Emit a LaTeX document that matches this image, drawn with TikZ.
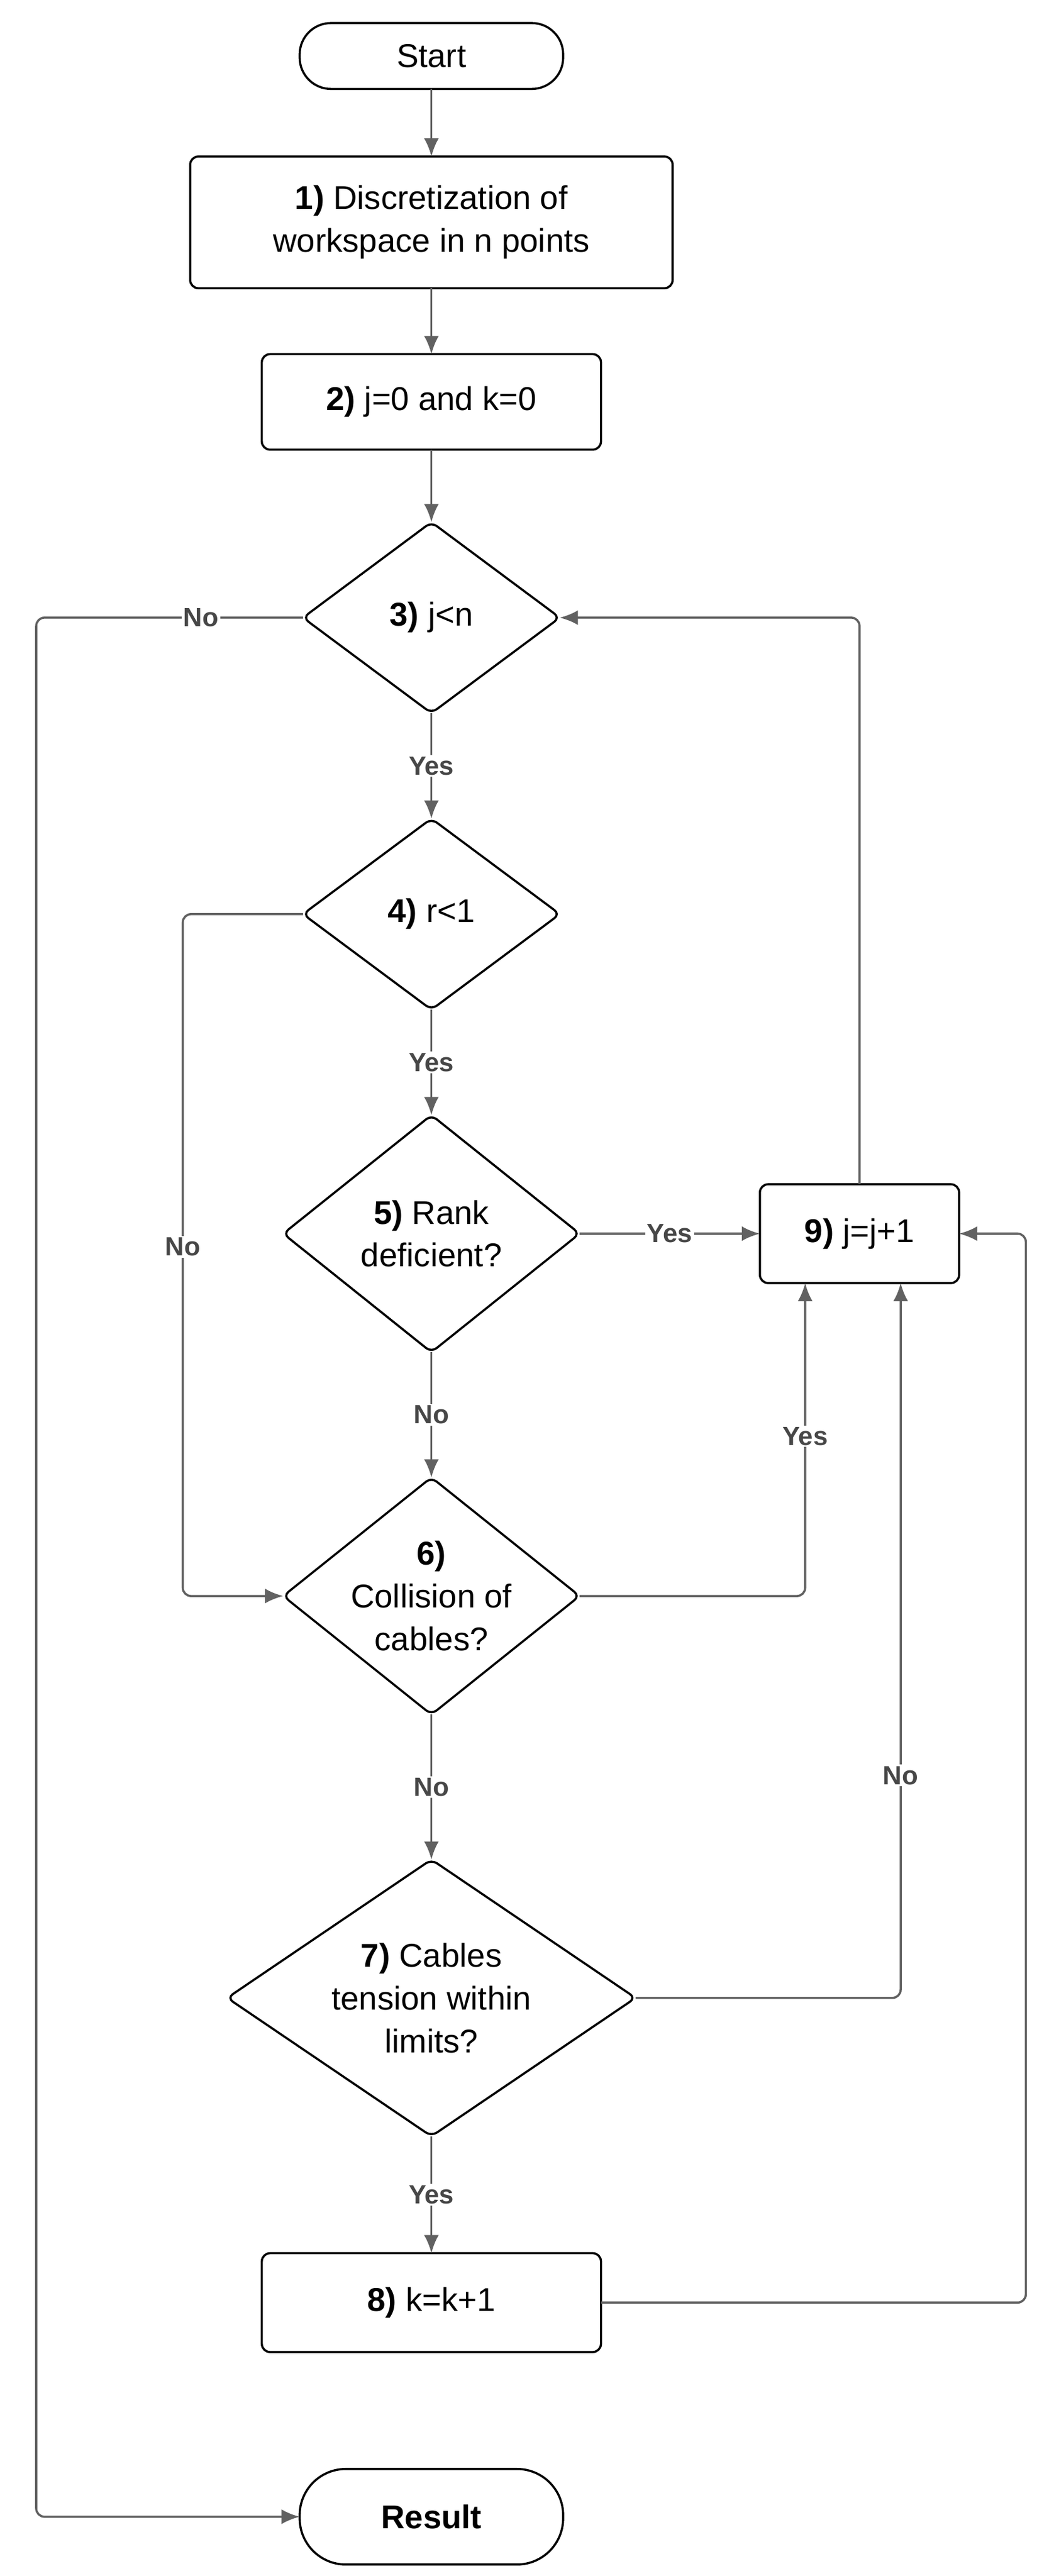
\documentclass[tikz,border=0pt]{standalone}
\usepackage{fontspec}
\setmainfont{Liberation Sans}
\usetikzlibrary{arrows.meta}
\begin{document}
\begin{tikzpicture}[x=1pt,y=-1pt,
 box/.style={draw=black,line width=1.3pt,rounded corners=5pt,align=center,inner sep=0pt,outer sep=0pt,font=\fontsize{20}{26}\selectfont},
 term/.style={box,rounded corners=19pt},
 dia/.style={draw=none,align=center,inner sep=0pt,outer sep=0pt,font=\fontsize{20}{26}\selectfont},
 ln/.style={draw=black!62,line width=1.3pt,rounded corners=5pt},
 arr/.style={ln,-{Latex[length=11pt,width=9pt]}},
 lab/.style={fill=white,text=black!72,font=\fontsize{16}{18}\bfseries\selectfont,inner sep=1pt}]
\useasboundingbox[fill=white] (0,0) rectangle (640,1564);
\node[term,minimum width=160,minimum height=40] (s) at (262,34) {Start};
\node[box,minimum width=293,minimum height=80] (b1) at (262,135) {\textbf{1)} Discretization of\\workspace in n points};
\node[box,minimum width=206,minimum height=58] (b2) at (262,244) {\textbf{2)} j=0 and k=0};
\node[dia,minimum width=156,minimum height=116] (d3) at (262,375) {\textbf{3)} j<n};
\node[dia,minimum width=156,minimum height=116] (d4) at (262,555) {\textbf{4)} r<1};
\node[dia,minimum width=180,minimum height=144] (d5) at (262,749) {\textbf{5)} Rank\\deficient?};
\node[dia,minimum width=180,minimum height=144] (d6) at (262,969) {\textbf{6)}\\Collision of\\cables?};
\node[dia,minimum width=248,minimum height=168] (d7) at (262,1213) {\textbf{7)} Cables\\tension within\\limits?};
\node[box,minimum width=206,minimum height=60] (b8) at (262,1398) {\textbf{8)} k=k+1};
\node[term,minimum width=160,minimum height=58,rounded corners=28pt] (r) at (262,1528) {\textbf{Result}};
\node[box,minimum width=121,minimum height=60] (b9) at (522,749) {\textbf{9)} j=j+1};
\foreach \d in {d3,d4,d5,d6,d7}
 \draw[line width=1.3pt,rounded corners=4pt] (\d.north)--(\d.east)--(\d.south)--(\d.west)--cycle;
\draw[arr] (s) -- (b1);
\draw[arr] (b1) -- (b2);
\draw[arr] (b2) -- (d3.north);
\draw[arr] (d3.west) -- (22,375) -- (22,1528) -- (r.west);
\node[lab] at (122,375) {No};
\draw[arr] (b9.north) |- (d3.east);
\draw[arr] (d3.south) -- node[lab]{Yes} (d4.north);
\draw[arr] (d4.west) -- (111,555) -- (111,969) -- (d6.west);
\node[lab] at (111,757) {No};
\draw[arr] (d4.south) -- node[lab]{Yes} (d5.north);
\draw[arr] (d5.east) -- node[lab,pos=0.5]{Yes} (b9.west);
\draw[arr] (d5.south) -- node[lab]{No} (d6.north);
\draw[arr] (d6.east) -- (489,969) -- (489,779);
\node[lab] at (489,872) {Yes};
\draw[arr] (d6.south) -- node[lab]{No} (d7.north);
\draw[arr] (d7.east) -- (547,1213) -- (547,779);
\node[lab] at (547,1078) {No};
\draw[arr] (d7.south) -- node[lab]{Yes} (b8.north);
\draw[arr] (b8.east) -- (623,1398) -- (623,749) -- (b9.east);
\end{tikzpicture}
\end{document}
